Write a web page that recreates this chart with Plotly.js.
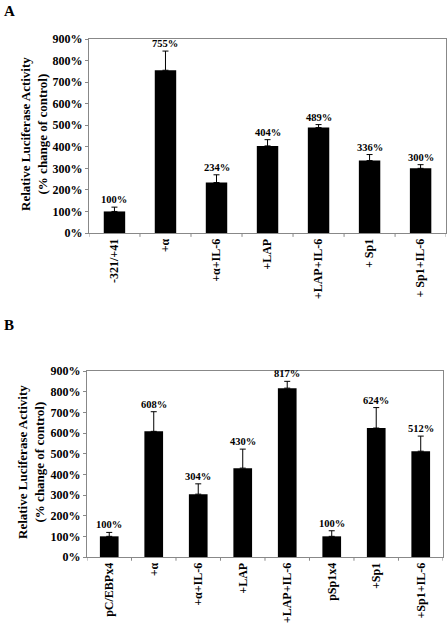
<!DOCTYPE html>
<html><head><meta charset="utf-8">
<script src="https://cdn.plot.ly/plotly-3.0.1.min.js"></script>
<style>html,body{margin:0;padding:0;background:#fff}#c{width:447px;height:625px}</style>
</head><body><div id="c"></div>
<script>
const catsA = ['-321/+41', '+α', '+α+IL-6', '+LAP', '+LAP+IL-6', '+ Sp1', '+ Sp1+IL-6'];
const valsA = [100, 755, 234, 404, 489, 336, 300];
const errsA = [20, 89, 36, 29, 14, 28, 17];
const catsB = ['pC/EBPx4', '+α', '+α+IL-6', '+LAP', '+LAP+IL-6', 'pSp1x4', '+Sp1', '+Sp1+IL-6'];
const valsB = [100, 608, 304, 430, 817, 100, 624, 512];
const errsB = [19, 95, 50, 92, 33, 27, 99, 73];
const yTicks = [0, 100, 200, 300, 400, 500, 600, 700, 800, 900];
const yTitle = 'Relative Luciferase Activity<br>(% change of control)';

const serif = 'Liberation Serif, Times New Roman, serif';
const bold = {family: serif, size: 12, color: '#000', weight: 'bold'};

function bar(cats, vals, errs, xa, ya) {
  return {type: 'bar', x: cats.map((c,i)=>i), y: vals, xaxis: xa, yaxis: ya,
    marker: {color: '#000'}, width: 0.42,
    error_y: {type: 'data', array: errs, symmetric: false, arrayminus: errs.map(()=>0),
      color: '#000', thickness: 1, width: 3},
    hoverinfo: 'none', showlegend: false};
}
function labels(cats, vals, errs, xr, yr) {
  return vals.map((v,i)=>({x: i, y: v + errs[i], xref: xr, yref: yr, text: v + '%',
    showarrow: false, yanchor: 'bottom', yshift: 0, font: {family: serif, size: 10.5, weight: 'bold', color: '#000'}}));
}
function xax(cats, dom) {
  return {domain: dom, range: [-0.5, cats.length - 0.5], tickmode: 'array',
    tickvals: cats.map((c,i)=>i), ticktext: cats, tickangle: -90,
    tickfont: bold, showline: true, linecolor: '#888', linewidth: 1, mirror: true,
    ticks: '', showgrid: false, zeroline: false, fixedrange: true};
}
function yax(dom) {
  return {domain: dom, range: [0, 900], tickmode: 'array', tickvals: yTicks,
    ticktext: yTicks.map(t=>t + '%'), tickfont: bold, ticks: 'outside', ticklen: 3,
    tickcolor: '#888', showline: true, linecolor: '#888', linewidth: 1, mirror: true,
    showgrid: false, zeroline: false, fixedrange: true};
}
function sepTicks(cats, xr, yr) {
  const s = [];
  for (let i = 0; i <= cats.length; i++) {
    s.push({type: 'line', xref: xr, yref: yr + ' domain', x0: i - 0.5, x1: i - 0.5, y0: 0, y1: -0.02,
      line: {color: '#888', width: 1}});
  }
  return s;
}
function ytitle(x, y) {
  return {text: yTitle, x: x, y: y, xref: 'paper', yref: 'paper', xanchor: 'center', yanchor: 'middle',
    textangle: -90, showarrow: false, font: {family: serif, size: 13, weight: 'bold', color: '#000'}};
}

const layout = {
  width: 447, height: 625, margin: {l: 0, r: 0, t: 0, b: 0},
  paper_bgcolor: '#fff', plot_bgcolor: '#fff', bargap: 0.58,
  xaxis: Object.assign(xax(catsA, [0.199, 0.998]), {anchor: 'y'}),
  yaxis: Object.assign(yax([0.6272, 0.9376]), {anchor: 'x'}),
  xaxis2: Object.assign(xax(catsB, [0.1946, 0.991]), {anchor: 'y2'}),
  yaxis2: Object.assign(yax([0.1088, 0.4064]), {anchor: 'x2'}),
  annotations: [
    ...labels(catsA, valsA, errsA, 'x', 'y'),
    ...labels(catsB, valsB, errsB, 'x2', 'y2'),
    ytitle(34/447, 1 - 134/625),
    ytitle(31/447, 1 - 462/625),
    {text: 'A', x: 2/447, y: 1 - 1/625, xref: 'paper', yref: 'paper', xanchor: 'left', yanchor: 'top',
      showarrow: false, font: {family: serif, size: 15, weight: 'bold', color: '#000'}},
    {text: 'B', x: 2/447, y: 1 - 315/625, xref: 'paper', yref: 'paper', xanchor: 'left', yanchor: 'top',
      showarrow: false, font: {family: serif, size: 15, weight: 'bold', color: '#000'}}
  ],
  shapes: [...sepTicks(catsA, 'x', 'y'), ...sepTicks(catsB, 'x2', 'y2')]
};

Plotly.newPlot('c', [bar(catsA, valsA, errsA, 'x', 'y'), bar(catsB, valsB, errsB, 'x2', 'y2')], layout,
  {staticPlot: true, displayModeBar: false});
</script></body></html>
